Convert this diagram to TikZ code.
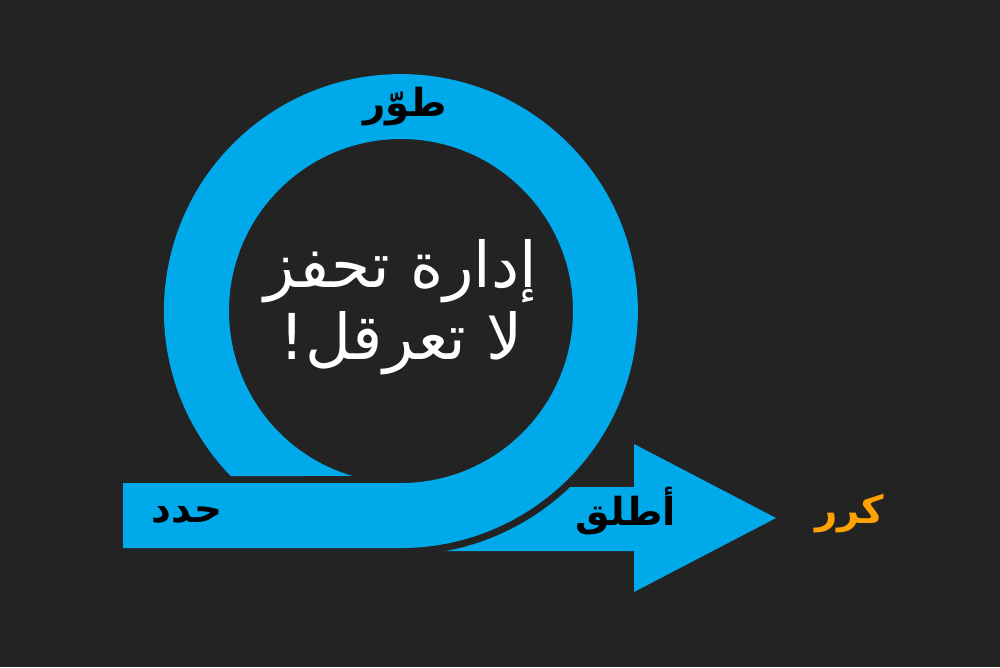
\documentclass[tikz,border=0pt]{standalone}
\usepackage{fontspec}
\newfontfamily\arabicfont[Script=Arabic]{DejaVu Sans}
\TeXXeTstate=1
\usetikzlibrary{positioning}

\definecolor{sfondo}{HTML}{232323}
\definecolor{azzurro}{HTML}{00A9EA}
\definecolor{arancio}{HTML}{FFA100}

\begin{document}
\begin{tikzpicture}[
    x=0.02cm, y=0.02cm,
    % Stili dei nodi
    fase/.style={
        font=\arabicfont\bfseries\fontsize{22}{26}\selectfont,
        text=black, inner sep=0pt
    },
    titolo/.style={
        font=\arabicfont\fontsize{36}{41}\selectfont,
        text=white, align=center, inner sep=0pt
    },
    anello/.style={fill=azzurro},
    stacco/.style={fill=sfondo}
]

% Sfondo
\fill[sfondo] (0,0) rectangle (1000,667);
\useasboundingbox (0,0) rectangle (1000,667);

% Centro dell'anello
\coordinate (centro) at (401,356);

% Freccia di lancio
\fill[anello] (420,180) -- (634,180) -- (634,223) -- (776,149)
    -- (634,75) -- (634,116) -- (420,116) -- cycle;

% Stacco scuro tra anello e freccia
\fill[stacco] (centro) circle[radius=244];

% Anello con banda
\fill[anello] (230.7,191) arc[start angle=224.1, end angle=-90, radius=237]
    -- (123,119) -- (123,184) -- (401,184)
    arc[start angle=-90, end angle=253.6, radius=172] -- cycle;

% Titolo
\node[titolo] (slogan) at (centro) [yshift=0.08cm] {\beginR إدارة تحفز\endR\\\beginR لا تعرقل!\endR};

% Fasi
\node[fase] (sviluppa) at (405,560) {\beginR طوّر\endR};
\node[fase] (definisci) at (187,152) {\beginR حدد\endR};
\node[fase] (lancia) at (626,156) {\beginR أطلق\endR};
\node[fase, text=arancio] (ripeti) at (850,153) {\beginR كرر\endR};

\end{tikzpicture}
\end{document}
